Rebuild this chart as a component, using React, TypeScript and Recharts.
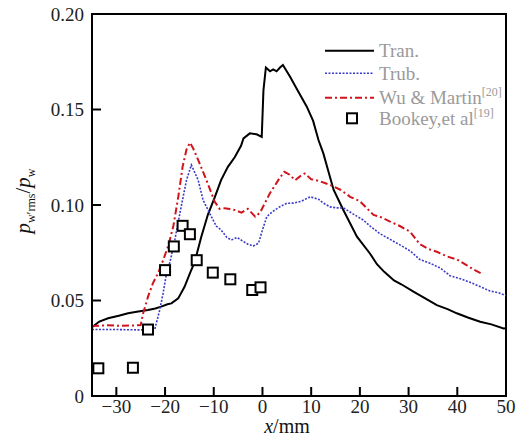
import React from "react";
import {
  ComposedChart,
  Line,
  Scatter,
  XAxis,
  YAxis,
  ReferenceArea,
  Legend,
  Label,
} from "recharts";

// Tran. (solid black)
const tranX = [
  -35, -33.5, -31.7, -29.5, -27.6, -25.5, -23.5, -22, -20.8, -19.5, -18.7, -17.3,
  -16, -14.9, -13.9, -12.6, -11.2, -9.8, -8.5, -7.1, -5.7, -4.4, -3.9, -2.6, -1.2,
  -0.15, 0.2, 0.7, 1.55, 2.2, 2.9, 3.6, 4.2, 5.7, 7, 9.1, 10.4, 11.5, 12.5, 13.6,
  14.6, 16.6, 19.4, 22.1, 23.5, 25, 27, 28.5, 31, 33.5, 35.8, 38, 39.9, 42.3, 44.7,
  47, 49.5, 50,
];
const tranY = [
  0.036, 0.039, 0.0407, 0.042, 0.0433, 0.0442, 0.045, 0.0458, 0.0468, 0.048, 0.0485,
  0.0511, 0.0572, 0.0642, 0.0703, 0.083, 0.095, 0.104, 0.113, 0.12, 0.125, 0.131,
  0.1349, 0.1375, 0.137, 0.1357, 0.16, 0.172, 0.17, 0.171, 0.17, 0.172, 0.1733,
  0.167, 0.161, 0.1515, 0.144, 0.134, 0.127, 0.117, 0.108, 0.0974, 0.0834, 0.0745,
  0.069, 0.065, 0.0605, 0.0585, 0.0546, 0.051, 0.0476, 0.0455, 0.0433, 0.041, 0.0389,
  0.0375, 0.0354, 0.0355,
];

// Trub. (blue dotted)
const trubX = [
  -35, -30, -25, -22.1, -21.1, -20.4, -19.7, -19, -18, -16.7, -15.6, -14.6, -13.2,
  -12.2, -10.5, -9.5, -8.5, -7.3, -6.4, -5.2, -4, -3, -1.9, -0.8, 0, 0.9, 2, 3.5, 5,
  6.5, 8, 9.8, 11.5, 12.5, 13.9, 15.2, 16.6, 18.5, 20.7, 22.1, 24.1, 26.2, 28.3,
  30.3, 32.3, 34.4, 36.5, 38.5, 40.5, 42.6, 44.5, 46.7, 48.5, 50,
];
const trubY = [
  0.0348, 0.0348, 0.0346, 0.035, 0.045, 0.0538, 0.0642, 0.07, 0.0817, 0.099, 0.113,
  0.121, 0.113, 0.1026, 0.0939, 0.089, 0.0869, 0.083, 0.0817, 0.083, 0.081, 0.0795,
  0.0785, 0.08, 0.087, 0.0939, 0.0964, 0.099, 0.1009, 0.101, 0.102, 0.1043, 0.103,
  0.101, 0.099, 0.0985, 0.0985, 0.0955, 0.0921, 0.089, 0.085, 0.082, 0.079, 0.076,
  0.0715, 0.0695, 0.067, 0.063, 0.0615, 0.0595, 0.0575, 0.055, 0.054, 0.0525,
];

// Wu & Martin (red dash-dot)
const wuX = [
  -35, -32, -29, -26, -25, -24.5, -23.5, -22.5, -21.5, -20.4, -19.3, -18.3, -17.3,
  -16.4, -15.6, -14.9, -14.3, -13.2, -11.5, -9.8, -8.8, -7.8, -6.7, -5.7, -4.3, -3,
  -1.5, -0.5, 0.5, 1.5, 2.5, 3.5, 4.5, 5.5, 6.7, 7.7, 8.7, 10, 11.5, 13.9, 16, 18,
  20, 22.8, 24.1, 26.2, 28.2, 30.3, 32.3, 34, 35.8, 38, 39.9, 41.9, 43.5, 45.3,
];
const wuY = [
  0.0367, 0.037, 0.0367, 0.037, 0.0372, 0.0433, 0.052, 0.059, 0.064, 0.071, 0.079,
  0.089, 0.104, 0.12, 0.129, 0.1326, 0.13, 0.1236, 0.113, 0.1017, 0.098, 0.0983,
  0.0979, 0.0974, 0.096, 0.098, 0.0939, 0.096, 0.101, 0.106, 0.11, 0.114, 0.1174,
  0.116, 0.113, 0.115, 0.1165, 0.1135, 0.1127, 0.1105, 0.108, 0.1043, 0.102, 0.0948,
  0.0939, 0.0913, 0.089, 0.086, 0.0795, 0.077, 0.0755, 0.073, 0.0715, 0.0685, 0.066,
  0.0637,
];

// Bookey, et al (squares)
const bookeyX = [-33.7, -26.6, -23.5, -20, -18.2, -16.4, -14.9, -13.5, -10.2, -6.6, -2.1, -0.4];
const bookeyY = [0.0145, 0.0148, 0.0348, 0.0659, 0.0783, 0.0891, 0.0847, 0.0711, 0.0646, 0.0611, 0.0555, 0.0569];

const xTicks = [-30, -20, -10, 0, 10, 20, 30, 40, 50];
const yTicks = [0, 0.05, 0.1, 0.15, 0.2];

const toPoints = (xs: number[], ys: number[]) => xs.map((x, i) => ({ x, y: ys[i] }));

const tranData = toPoints(tranX, tranY);
const trubData = toPoints(trubX, trubY);
const wuData = toPoints(wuX, wuY);
const bookeyData = toPoints(bookeyX, bookeyY);

const FONT = "'Liberation Serif', 'DejaVu Serif', serif";
const BLUE = "#3b3bc8";
const RED = "#d0141c";

const fmtX = (v: number) => (v < 0 ? "\u2212" + Math.abs(v) : String(v));
const fmtY = (v: number) => (v === 0 ? "0" : v.toFixed(2));

const Square = (props: any) => {
  const { cx, cy } = props;
  if (cx == null || cy == null) return null;
  return <rect x={cx - 5} y={cy - 5} width={10} height={10} fill="#fff" stroke="#000" strokeWidth={2} />;
};

const YTitle = () => (
  <text
    x={30}
    y={201}
    transform="rotate(-90 30 201)"
    textAnchor="middle"
    style={{ fontFamily: FONT }}
    fontSize={21}
    fill="#111"
  >
    <tspan fontStyle="italic">p</tspan>
    <tspan fontSize={12} dy={5}>w′rms</tspan>
    <tspan dy={-5}>/</tspan>
    <tspan fontStyle="italic">p</tspan>
    <tspan fontSize={12} dy={5}>w</tspan>
  </text>
);

const XTitle = () => (
  <text x={287} y={433} textAnchor="middle" style={{ fontFamily: FONT }} fontSize={20} fill="#111">
    <tspan fontStyle="italic">x</tspan>
    <tspan>/mm</tspan>
  </text>
);

const legendItems = [
  { name: "Tran.", sup: "", kind: "line", color: "#000", dash: undefined as string | undefined, width: 2 },
  { name: "Trub.", sup: "", kind: "line", color: BLUE, dash: "2 1.5", width: 1.6 },
  { name: "Wu & Martin", sup: "[20]", kind: "line", color: RED, dash: "7 3 2 3", width: 2 },
  { name: "Bookey,et al", sup: "[19]", kind: "square", color: "#000", dash: undefined, width: 2 },
];
const legendRows = [12.7, 35.3, 59.7, 80.3];

const renderLegend = () => (
  <svg width={200} height={95} style={{ overflow: "visible" }}>
    {legendItems.map((it, i) => {
      const y = legendRows[i];
      return (
        <g key={it.name}>
          {it.kind === "line" ? (
            <line x1={5} x2={54} y1={y} y2={y} stroke={it.color} strokeWidth={it.width} strokeDasharray={it.dash} />
          ) : (
            <rect x={27} y={y - 5} width={10} height={10} fill="#fff" stroke="#000" strokeWidth={2} />
          )}
          <text x={59} y={y + 6.5} style={{ fontFamily: FONT }} fontSize={19} fill="#9a9a9a">
            {it.name}
            {it.sup ? (
              <tspan fontSize={12} dy={-8}>
                {it.sup}
              </tspan>
            ) : null}
          </text>
        </g>
      );
    })}
  </svg>
);

const tickStyle = { fill: "#222", fontSize: 19, fontFamily: FONT, style: { fontFamily: FONT } };

export default function App() {
  return (
    <div style={{ position: "absolute", left: 0, top: 0, width: 524, height: 436, background: "#fff", fontFamily: FONT }}>
      <ComposedChart width={524} height={436} margin={{ top: 14, right: 18, bottom: 0, left: 0 }}>
        <XAxis
          type="number"
          dataKey="x"
          domain={[-35, 50]}
          ticks={xTicks}
          allowDataOverflow
          height={40}
          tickFormatter={fmtX}
          tickSize={-9}
          tickMargin={13}
          axisLine={{ stroke: "#000", strokeWidth: 2 }}
          tickLine={{ stroke: "#000", strokeWidth: 2 }}
          tick={tickStyle}
        >
          <Label content={() => <XTitle />} />
        </XAxis>
        <YAxis
          type="number"
          dataKey="y"
          domain={[0, 0.2]}
          ticks={yTicks}
          allowDataOverflow
          width={92}
          tickFormatter={fmtY}
          tickSize={-9}
          tickMargin={17}
          axisLine={{ stroke: "#000", strokeWidth: 2 }}
          tickLine={{ stroke: "#000", strokeWidth: 2 }}
          tick={tickStyle}
        >
          <Label content={() => <YTitle />} />
        </YAxis>
        <Line
          data={tranData}
          dataKey="y"
          name="Tran."
          type="linear"
          stroke="#000"
          strokeWidth={2}
          dot={false}
          isAnimationActive={false}
        />
        <Line
          data={trubData}
          dataKey="y"
          name="Trub."
          type="linear"
          stroke={BLUE}
          strokeWidth={1.6}
          strokeDasharray="2 1.5"
          dot={false}
          isAnimationActive={false}
        />
        <Line
          data={wuData}
          dataKey="y"
          name="Wu & Martin"
          type="linear"
          stroke={RED}
          strokeWidth={2}
          strokeDasharray="7 3 2 3"
          dot={false}
          isAnimationActive={false}
        />
        <Scatter
          data={bookeyData}
          dataKey="y"
          name="Bookey,et al"
          shape={Square}
          isAnimationActive={false}
        />
        <ReferenceArea
          x1={-35}
          x2={50}
          y1={0}
          y2={0.2}
          fill="none"
          stroke="#000"
          strokeWidth={2}
          ifOverflow="visible"
        />
        <Legend
          content={renderLegend}
          layout="horizontal"
          verticalAlign="middle"
          align="center"
          wrapperStyle={{ left: 320, top: 38, width: 200, height: 95 }}
        />
      </ComposedChart>
    </div>
  );
}
